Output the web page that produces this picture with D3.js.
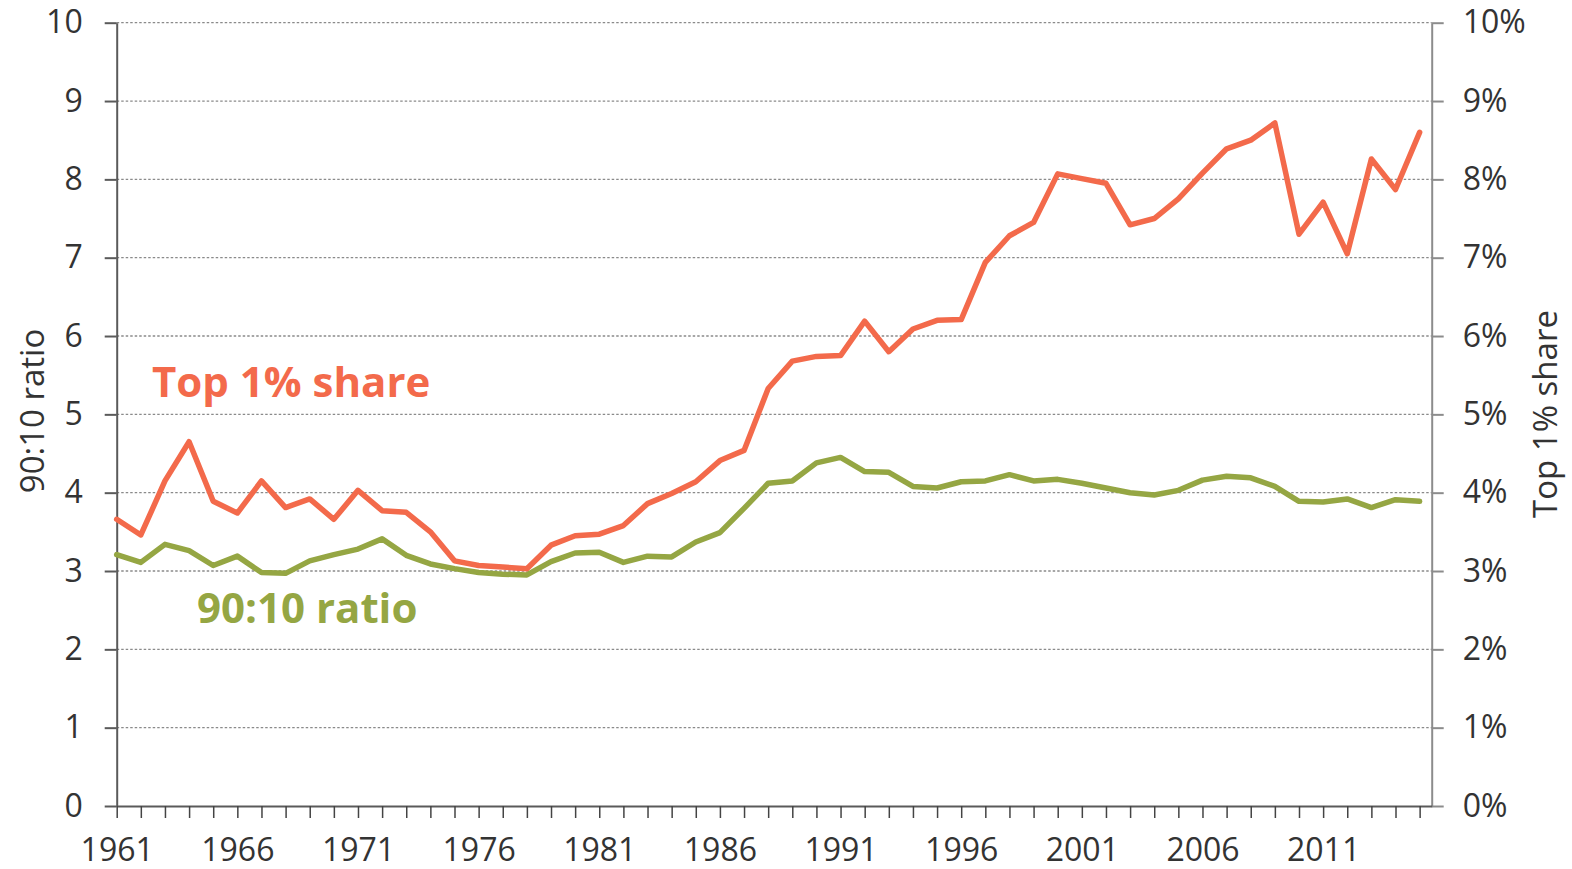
<!DOCTYPE html>
<html>
<head>
<meta charset="utf-8">
<script src="https://cdn.jsdelivr.net/npm/d3@7"></script>
<style>
  body { margin: 0; background: #fff; }
  text { font-family: "Open Sans", sans-serif; }
</style>
</head>
<body>
<div id="chart"></div>
<script>
// Data
const years = d3.range(1961, 2016);
const top1Share = [
    3.66, 3.46, 4.15, 4.65, 3.89, 3.74, 4.15, 3.81, 3.92, 3.66,
    4.03, 3.77, 3.75, 3.50, 3.13, 3.07, 3.05, 3.03, 3.33, 3.45,
    3.47, 3.58, 3.86, 3.99, 4.14, 4.41, 4.54, 5.33, 5.68, 5.74,
    5.75, 6.19, 5.80, 6.09, 6.20, 6.21, 6.94, 7.28, 7.45, 8.07,
    8.01, 7.95, 7.42, 7.50, 7.75, 8.08, 8.39, 8.50, 8.72, 7.30,
    7.71, 7.05, 8.26, 7.87, 8.60
];
const ratio9010 = [
    3.21, 3.11, 3.34, 3.26, 3.07, 3.19, 2.98, 2.97, 3.13, 3.21,
    3.28, 3.41, 3.20, 3.09, 3.03, 2.98, 2.96, 2.95, 3.12, 3.23,
    3.24, 3.11, 3.19, 3.18, 3.37, 3.49, 3.80, 4.12, 4.15, 4.38,
    4.45, 4.27, 4.26, 4.08, 4.06, 4.14, 4.15, 4.23, 4.15, 4.17,
    4.12, 4.06, 4.00, 3.97, 4.03, 4.16, 4.21, 4.19, 4.08, 3.89,
    3.88, 3.92, 3.81, 3.91, 3.89
];
const yTicks = [0, 1, 2, 3, 4, 5, 6, 7, 8, 9, 10];
const xLabelYears = [1961, 1966, 1971, 1976, 1981, 1986, 1991, 1996, 2001, 2006, 2011];

const W = 1572, H = 869;
const margin = { top: 22.7, right: 140.3, bottom: 63, left: 116.7 };
const width = W - margin.left - margin.right;
const height = H - margin.top - margin.bottom;

const red = '#f36a4b';
const green = '#95a643';

const svg = d3.select('#chart')
    .append('svg')
    .attr('width', W)
    .attr('height', H);

const g = svg.append('g')
    .attr('transform', 'translate(' + margin.left + ',' + margin.top + ')');

const x = d3.scaleLinear().domain([1961, 2015.5]).range([0, width]);
const y = d3.scaleLinear().domain([0, 10]).range([height, 0]);

// dotted gridlines
g.append('g')
    .selectAll('line')
    .data(yTicks.filter(d => d > 0))
    .enter()
    .append('line')
    .attr('x1', 0)
    .attr('x2', width)
    .attr('y1', d => y(d))
    .attr('y2', d => y(d))
    .attr('stroke', '#8a8a8a')
    .attr('stroke-width', 1.3)
    .attr('stroke-dasharray', '2.5,2');

// left axis
const leftAxis = g.append('g')
    .call(d3.axisLeft(y).tickValues(yTicks).tickSize(12).tickSizeOuter(0).tickPadding(22));
leftAxis.select('.domain').attr('stroke', '#5a5a5a').attr('stroke-width', 2);
leftAxis.selectAll('.tick line').attr('stroke', '#5a5a5a').attr('stroke-width', 2);
leftAxis.selectAll('.tick text')
    .attr('fill', '#333')
    .style('font-size', '32px');

// right axis
const rightAxis = g.append('g')
    .attr('transform', 'translate(' + width + ',0)')
    .call(d3.axisRight(y).tickValues(yTicks).tickFormat(d => d + '%').tickSize(12).tickSizeOuter(0).tickPadding(19));
rightAxis.select('.domain').attr('stroke', '#8c8c8c').attr('stroke-width', 2);
rightAxis.selectAll('.tick line').attr('stroke', '#8c8c8c').attr('stroke-width', 2);
rightAxis.selectAll('.tick text')
    .attr('fill', '#333')
    .style('font-size', '32px');

// bottom axis
const bottomAxis = g.append('g')
    .attr('transform', 'translate(0,' + height + ')')
    .call(d3.axisBottom(x)
        .tickValues(years)
        .tickFormat(d => xLabelYears.includes(d) ? d : '')
        .tickSize(12)
        .tickSizeOuter(0)
        .tickPadding(20));
bottomAxis.select('.domain').attr('stroke', '#5a5a5a').attr('stroke-width', 2);
bottomAxis.selectAll('.tick line').attr('stroke', '#444').attr('stroke-width', 1.5);
bottomAxis.selectAll('.tick text')
    .attr('fill', '#333')
    .style('font-size', '32px');

// axis titles
svg.append('text')
    .attr('transform', 'translate(44,411) rotate(-90)')
    .attr('text-anchor', 'middle')
    .attr('fill', '#333')
    .style('font-size', '33px')
    .text('90:10 ratio');

svg.append('text')
    .attr('transform', 'translate(1557,414) rotate(-90)')
    .attr('text-anchor', 'middle')
    .attr('fill', '#333')
    .style('font-size', '33px')
    .text('Top 1% share');

// lines
const line = d3.line()
    .x((d, i) => x(years[i]))
    .y(d => y(d));

g.append('path')
    .datum(ratio9010)
    .attr('fill', 'none')
    .attr('stroke', green)
    .attr('stroke-width', 5.5)
    .attr('stroke-linejoin', 'round')
    .attr('stroke-linecap', 'round')
    .attr('d', line);

g.append('path')
    .datum(top1Share)
    .attr('fill', 'none')
    .attr('stroke', red)
    .attr('stroke-width', 5.5)
    .attr('stroke-linejoin', 'round')
    .attr('stroke-linecap', 'round')
    .attr('d', line);

// series labels
svg.append('text')
    .attr('x', 152)
    .attr('y', 397)
    .attr('fill', red)
    .style('font-size', '42px')
    .style('font-weight', 'bold')
    .text('Top 1% share');

svg.append('text')
    .attr('x', 197)
    .attr('y', 623)
    .attr('fill', green)
    .style('font-size', '42px')
    .style('font-weight', 'bold')
    .text('90:10 ratio');
</script>
</body>
</html>
